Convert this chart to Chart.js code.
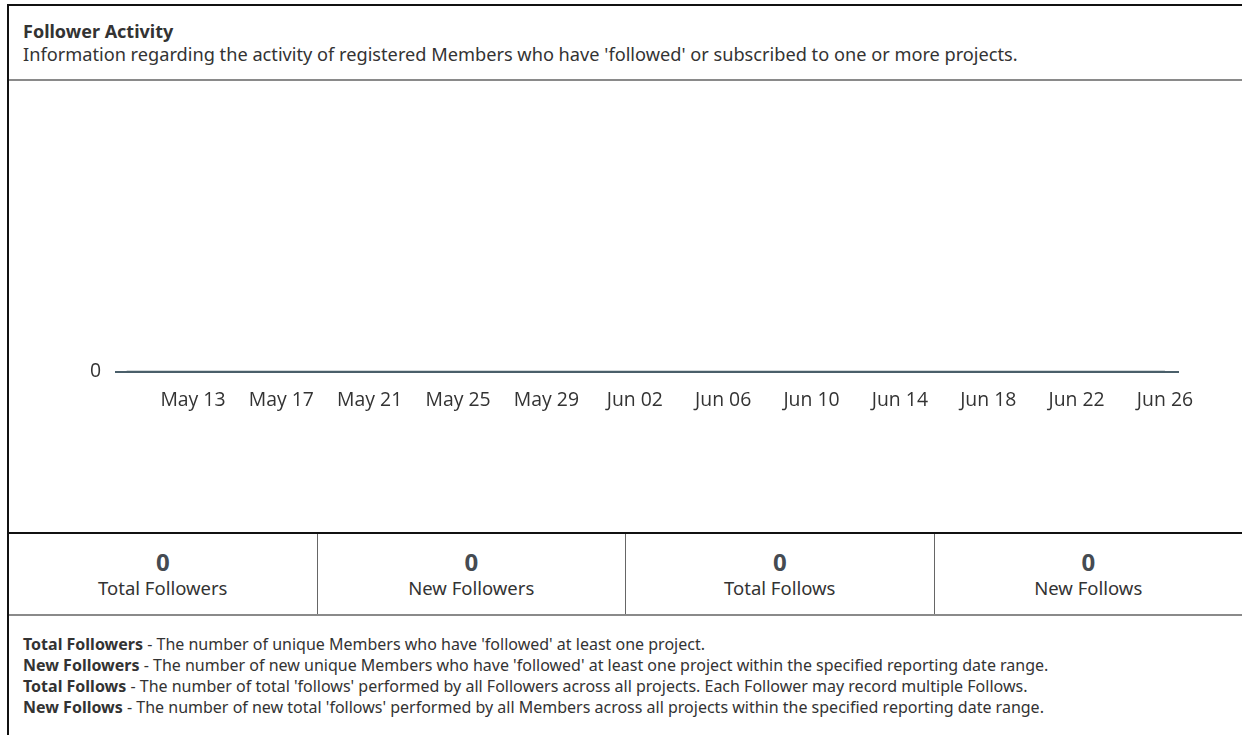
<!DOCTYPE html>
<html lang="en">
<head>
    <meta charset="UTF-8">
    <title>Follower Activity</title>
    <script src="https://cdn.jsdelivr.net/npm/chart.js"></script>
    <style>
        html, body { margin: 0; padding: 0; background: #fff; }
        body { font-family: "Noto Sans", "Open Sans", sans-serif; color: #333; width: 1242px; height: 735px; overflow: hidden; }
        .card {
            position: absolute; left: 7px; top: 4px; width: 1233px; height: 740px;
            border-left: 2px solid #111; border-top: 2px solid #111; border-right: 1px solid #ddd;
        }
        .head { border-bottom: 2px solid #8a8a8a; padding: 0 0 0 14px; box-sizing: border-box; height: 75px; }
        .head h3 { margin: 0; padding-top: 14px; font-size: 18px; font-weight: 700; line-height: 22px; color: #333; }
        .head p { margin: 0; font-size: 18.2px; line-height: 24px; color: #333; }
        .chart-box { position: relative; height: 451px; border-bottom: 2px solid #111; }
        .stats { display: flex; height: 80px; border-bottom: 2px solid #8a8a8a; }
        .stat { flex: 1; text-align: center; border-right: 1px solid #666; }
        .stat:last-child { border-right: none; }
        .stat b { display: block; font-size: 24px; line-height: 28px; padding-top: 14px; color: #454b52; }
        .stat span { display: block; font-size: 18.5px; line-height: 24px; color: #333; }
        .notes { padding: 18px 0 0 14px; font-size: 16px; line-height: 21px; color: #333; }
        .notes div { white-space: nowrap; }
    </style>
</head>
<body>
<div class="card">
    <div class="head">
        <h3>Follower Activity</h3>
        <p>Information regarding the activity of registered Members who have 'followed' or subscribed to one or more projects.</p>
    </div>
    <div class="chart-box"><canvas id="followerChart"></canvas></div>
    <div class="stats">
        <div class="stat"><b>0</b><span>Total Followers</span></div>
        <div class="stat"><b>0</b><span>New Followers</span></div>
        <div class="stat"><b>0</b><span>Total Follows</span></div>
        <div class="stat"><b>0</b><span>New Follows</span></div>
    </div>
    <div class="notes">
        <div><b>Total Followers</b> - The number of unique Members who have 'followed' at least one project.</div>
        <div><b>New Followers</b> - The number of new unique Members who have 'followed' at least one project within the specified reporting date range.</div>
        <div><b>Total Follows</b> - The number of total 'follows' performed by all Followers across all projects. Each Follower may record multiple Follows.</div>
        <div><b>New Follows</b> - The number of new total 'follows' performed by all Members across all projects within the specified reporting date range.</div>
    </div>
</div>

<script>
    // one entry per day of the reporting range
    const dayLabels = [
        'May 10', 'May 11', 'May 12', 'May 13', 'May 14', 'May 15', 'May 16', 'May 17',
        'May 18', 'May 19', 'May 20', 'May 21', 'May 22', 'May 23', 'May 24', 'May 25',
        'May 26', 'May 27', 'May 28', 'May 29', 'May 30', 'May 31', 'Jun 01', 'Jun 02',
        'Jun 03', 'Jun 04', 'Jun 05', 'Jun 06', 'Jun 07', 'Jun 08', 'Jun 09', 'Jun 10',
        'Jun 11', 'Jun 12', 'Jun 13', 'Jun 14', 'Jun 15', 'Jun 16', 'Jun 17', 'Jun 18',
        'Jun 19', 'Jun 20', 'Jun 21', 'Jun 22', 'Jun 23', 'Jun 24', 'Jun 25', 'Jun 26'
    ];
    const followers = [
        0, 0, 0, 0, 0, 0, 0, 0,
        0, 0, 0, 0, 0, 0, 0, 0,
        0, 0, 0, 0, 0, 0, 0, 0,
        0, 0, 0, 0, 0, 0, 0, 0,
        0, 0, 0, 0, 0, 0, 0, 0,
        0, 0, 0, 0, 0, 0, 0, 0
    ];
    const yTicks = [0];

    const lineColor = '#4a5f6a';

    new Chart(document.getElementById('followerChart'), {
        type: 'line',
        data: {
            datasets: [{
                label: 'Followers',
                // x = day number within the range (May 10 -> 1)
                data: followers.map((v, i) => ({ x: i + 1, y: v })),
                borderColor: lineColor,
                borderWidth: 2,
                pointRadius: 0,
                tension: 0
            }]
        },
        options: {
            responsive: true,
            maintainAspectRatio: false,
            animation: false,
            layout: { padding: { left: 74, right: 64, top: 20, bottom: 111 } },
            plugins: { legend: { display: false }, tooltip: { enabled: false } },
            scales: {
                x: {
                    type: 'linear',
                    min: 0.52,
                    max: 48.59,
                    grid: { display: false },
                    border: { display: true, color: lineColor, width: 2 },
                    ticks: {
                        stepSize: 4,
                        includeBounds: false,
                        autoSkip: false,
                        maxRotation: 0,
                        padding: 9,
                        color: '#333',
                        font: { family: 'Open Sans', size: 19.4 },
                        callback: v => dayLabels[v - 1] || ''
                    }
                },
                y: {
                    min: 0,
                    max: 1,
                    grid: { display: false },
                    border: { display: false },
                    afterBuildTicks: s => { s.ticks = yTicks.map(v => ({ value: v })); },
                    ticks: {
                        padding: 7,
                        color: '#333',
                        font: { family: 'Open Sans', size: 19.4 }
                    }
                }
            }
        }
    });
</script>
</body>
</html>
